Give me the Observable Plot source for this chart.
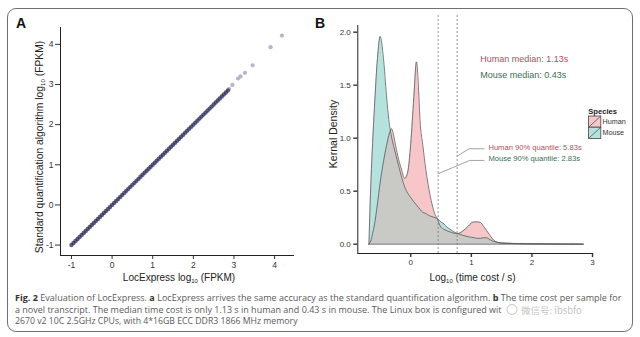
<!DOCTYPE html>
<html><head><meta charset="utf-8">
<script src="https://cdn.jsdelivr.net/npm/d3@7"></script>
<script src="https://cdn.jsdelivr.net/npm/@observablehq/plot@0.6"></script>
<style>
html,body{margin:0;padding:0;background:#fff;}
#wrap{position:relative;width:640px;height:337px;overflow:hidden;font-family:"Liberation Sans",Arial,sans-serif;color:#222;}
#border{position:absolute;left:7px;top:8px;width:626px;height:324px;border:1.4px solid #707070;border-radius:9px;box-sizing:border-box;}
.abs{position:absolute;white-space:nowrap;line-height:1;}
.abs sub{font-size:0.6em;vertical-align:-0.3em;line-height:0;}
svg.plot{position:absolute;top:0;}
svg.plot text{font-family:"Liberation Sans",Arial,sans-serif;}
#plotB [aria-label="y-axis tick"], #plotB [aria-label="x-axis tick"]{stroke-width:1.4;}
</style></head>
<body><div id="wrap"><div id="border"></div></div>
<script>
// ---------- DATA ----------
// Panel A: LocExpress vs standard quantification (log10 FPKM)
const locExpressDense = [-1,-0.95,-0.9,-0.85,-0.8,-0.75,-0.7,-0.65,-0.6,-0.55,-0.5,-0.45,-0.4,-0.35,-0.3,-0.25,-0.2,-0.15,-0.1,-0.05,0,0.05,0.1,0.15,0.2,0.25,0.3,0.35,0.4,0.45,0.5,0.55,0.6,0.65,0.7,0.75,0.8,0.85,0.9,0.95,1,1.05,1.1,1.15,1.2,1.25,1.3,1.35,1.4,1.45,1.5,1.55,1.6,1.65,1.7,1.75,1.8,1.85,1.9,1.95,2,2.05,2.1,2.15,2.2,2.25,2.3,2.35,2.4,2.45,2.5,2.55,2.6,2.65,2.7,2.75,2.8,2.85];
const standardDense   = [-1,-0.95,-0.9,-0.85,-0.8,-0.75,-0.7,-0.65,-0.6,-0.55,-0.5,-0.45,-0.4,-0.35,-0.3,-0.25,-0.2,-0.15,-0.1,-0.05,0,0.05,0.1,0.15,0.2,0.25,0.3,0.35,0.4,0.45,0.5,0.55,0.6,0.65,0.7,0.75,0.8,0.85,0.9,0.95,1,1.05,1.1,1.15,1.2,1.25,1.3,1.35,1.4,1.45,1.5,1.55,1.6,1.65,1.7,1.75,1.8,1.85,1.9,1.95,2,2.05,2.1,2.15,2.2,2.25,2.3,2.35,2.4,2.45,2.5,2.55,2.6,2.65,2.7,2.75,2.8,2.85];
const locExpressSparse = [2.88,2.96,3.1,3.16,3.27,3.46,3.9,4.18];
const standardSparse   = [2.89,2.99,3.15,3.2,3.29,3.48,3.93,4.22];
const ticksA = [-1,0,1,2,3,4];

// Panel B: kernel density of log10(time cost / s)
const species = ["Human","Mouse"];
const logTime = [-0.69,-0.68,-0.66,-0.63,-0.6,-0.55,-0.505,-0.45,-0.4,-0.35,-0.32,-0.28,-0.25,-0.2,-0.15,-0.1,-0.05,0,0.05,0.094,0.13,0.15,0.2,0.25,0.3,0.35,0.4,0.44,0.47,0.5,0.55,0.6,0.65,0.7,0.77,0.85,0.95,1.0,1.05,1.1,1.15,1.2,1.25,1.3,1.35,1.4,1.45,1.5,1.6,1.8,2.0,2.3,2.6,2.85];
const humanDensity = [0,0.01,0.03,0.1,0.18,0.38,0.58,0.78,0.93,1.05,1.09,1.02,0.93,0.8,0.7,0.62,0.68,0.95,1.38,1.72,1.45,1.2,0.93,0.7,0.52,0.38,0.28,0.24,0.19,0.16,0.14,0.125,0.115,0.105,0.1,0.12,0.17,0.2,0.21,0.21,0.205,0.17,0.13,0.09,0.05,0.025,0.015,0.01,0.008,0.005,0.003,0.002,0.001,0];
const mouseDensity = [0,0.2,0.55,0.95,1.28,1.75,1.96,1.75,1.4,1.12,1.02,0.92,0.85,0.74,0.63,0.54,0.48,0.44,0.4,0.37,0.345,0.33,0.3,0.29,0.27,0.26,0.25,0.24,0.225,0.21,0.19,0.16,0.14,0.12,0.1,0.085,0.07,0.065,0.06,0.055,0.055,0.06,0.06,0.045,0.03,0.02,0.015,0.011,0.008,0.005,0.003,0.002,0.001,0];
const medianSeconds = [1.13, 0.43];
const quantile90Seconds = [5.83, 2.83];
const ticksBx = [0,1,2,3];
const ticksBy = [0,0.5,1,1.5,2];

// ---------- LAYOUT ----------
const wrap = document.getElementById("wrap");
const font = '"Liberation Sans", Arial, sans-serif';
const colHuman = "#f6c6c8", colMouse = "#b6e2de", colBoth = "#c9cac6";
const txtHuman = "#ad4f60", txtMouse = "#3a6e56";

function addLabel(html, x, y, css = {}, mode = "middle") {
  const d = document.createElement("div");
  d.className = "abs";
  d.innerHTML = html;
  d.style.left = x + "px";
  d.style.top = y + "px";
  d.style.transform = mode === "rotate" ? "translate(-50%,-50%) rotate(-90deg)" : (mode === "start" ? "translate(0,-50%)" : "translate(-50%,-50%)");
  Object.assign(d.style, css);
  wrap.appendChild(d);
  return d;
}

// Panel A
const xDomA = [-1.27, 4.49], yDomA = [-1.26, 4.42];
const plotA = Plot.plot({
  width: 310, height: 290,
  marginLeft: 60, marginRight: 16, marginTop: 27, marginBottom: 35,
  style: {background: "transparent", fontFamily: font, fontSize: "8.5px", color: "#333", overflow: "visible"},
  x: {domain: xDomA, ticks: ticksA, tickSize: 4, tickPadding: 2, label: null, tickFormat: d => String(d)},
  y: {domain: yDomA, ticks: ticksA, tickSize: 5, tickPadding: 2, label: null, tickFormat: d => String(d)},
  marks: [
    Plot.dot(locExpressSparse.map((x, i) => ({x, y: standardSparse[i]})), {x: "x", y: "y", r: 2.1, fill: "#a9a8c6", fillOpacity: 0.85, stroke: "none"}),
    Plot.dot(locExpressDense.map((x, i) => ({x, y: standardDense[i]})), {x: "x", y: "y", r: 2.2, fill: "#2a2a55", fillOpacity: 0.75, stroke: "none"}),
    Plot.ruleX([xDomA[0]], {stroke: "#222", strokeWidth: 1}),
    Plot.ruleY([yDomA[0]], {stroke: "#222", strokeWidth: 1})
  ]
});
plotA.classList.add("plot");
plotA.style.left = "0px";
wrap.appendChild(plotA);

// Panel B
const xDomB = [-0.874, 3.016], yDomB = [-0.088, 2.063];
const rows = logTime.map((x, i) => ({x, human: humanDensity[i], mouse: mouseDensity[i], both: Math.min(humanDensity[i], mouseDensity[i])}));
const quantRows = species.map((s, i) => ({species: s, q: Math.log10(quantile90Seconds[i])}));
// annotation layout (data space of panel B)
const leaderHuman = [{x: Math.log10(quantile90Seconds[0]), y: 0.83}, {x: 0.96, y: 0.9}, {x: 1.21, y: 0.9}];
const leaderMouse = [{x: Math.log10(quantile90Seconds[1]), y: 0.665}, {x: 0.975, y: 0.79}, {x: 1.21, y: 0.79}];
const plotB = Plot.plot({
  width: 303, height: 290,
  marginLeft: 57.3, marginRight: 10, marginTop: 25, marginBottom: 37,
  style: {background: "transparent", fontFamily: font, fontSize: "8px", color: "#333", overflow: "visible"},
  x: {domain: xDomB, ticks: ticksBx, tickSize: 4, tickPadding: 2, label: null, tickFormat: d => String(d)},
  y: {domain: yDomB, ticks: ticksBy, tickSize: 4, tickPadding: 3, label: null, tickFormat: d3.format(".1f")},
  marks: [
    Plot.areaY(rows, {x: "x", y: "human", fill: colHuman, curve: "monotone-x"}),
    Plot.areaY(rows, {x: "x", y: "mouse", fill: colMouse, curve: "monotone-x"}),
    Plot.areaY(rows, {x: "x", y: "both", fill: colBoth, curve: "monotone-x"}),
    Plot.lineY(rows, {x: "x", y: "human", stroke: "#5b5b5b", strokeWidth: 0.8, curve: "monotone-x"}),
    Plot.lineY(rows, {x: "x", y: "mouse", stroke: "#5b5b5b", strokeWidth: 0.8, curve: "monotone-x"}),
    Plot.ruleY([{y: 0, x1: logTime[0], x2: logTime[logTime.length - 1]}], {y: "y", x1: "x1", x2: "x2", stroke: "#555", strokeWidth: 0.8}),
    Plot.ruleX(quantRows, {x: "q", y1: yDomB[0], y2: 2.16, stroke: "#777", strokeWidth: 0.8, strokeDasharray: "2,2"}),
    Plot.line(leaderHuman, {x: "x", y: "y", stroke: "#8a8a8a", strokeWidth: 0.8}),
    Plot.line(leaderMouse, {x: "x", y: "y", stroke: "#8a8a8a", strokeWidth: 0.8}),
    Plot.ruleX([xDomB[0]], {stroke: "#222", strokeWidth: 1}),
    Plot.ruleY([yDomB[0]], {stroke: "#222", strokeWidth: 1})
  ]
});
plotB.classList.add("plot");
plotB.id = "plotB";
plotB.style.left = "300px";
wrap.appendChild(plotB);
const sxB = v => 300 + plotB.scale("x").apply(v);
const syB = v => plotB.scale("y").apply(v);

// annotation texts (placed through panel B's scales)
addLabel(`Human median: ${medianSeconds[0]}s`, sxB(1.155), syB(1.74), {fontSize: "9px", color: txtHuman}, "start");
addLabel(`Mouse median: ${medianSeconds[1]}s`, sxB(1.155), syB(1.59), {fontSize: "9px", color: txtMouse}, "start");
addLabel(`Human 90% quantile: ${quantile90Seconds[0]}s`, sxB(1.29), syB(0.905), {fontSize: "7.6px", color: txtHuman}, "start");
addLabel(`Mouse 90% quantile: ${quantile90Seconds[1]}s`, sxB(1.29), syB(0.795), {fontSize: "7.6px", color: txtMouse}, "start");

// Panel letters & axis titles
addLabel("A", 21, 22.5, {fontSize: "14px", fontWeight: "bold", color: "#111"});
addLabel("B", 320, 22.5, {fontSize: "14px", fontWeight: "bold", color: "#111"});
addLabel("LocExpress log<sub>10</sub> (FPKM)", 179, 278, {fontSize: "10px", color: "#222"});
addLabel("Standard quantification algorithm log<sub>10</sub> (FPKM)", 40, 147, {fontSize: "10.3px", color: "#222"}, "rotate");
addLabel("Log<sub>10</sub> (time cost / s)", 472.5, 278, {fontSize: "10px", color: "#222"});
addLabel("Kernal Density", 333, 134, {fontSize: "10.5px", color: "#222"}, "rotate");

// Legend
const ns = "http://www.w3.org/2000/svg";
const over = document.createElementNS(ns, "svg");
over.setAttribute("width", 640); over.setAttribute("height", 337);
over.style.position = "absolute"; over.style.left = "0"; over.style.top = "0";
wrap.appendChild(over);
function el(tag, attrs, parent = over) {
  const e = document.createElementNS(ns, tag);
  for (const k in attrs) e.setAttribute(k, attrs[k]);
  parent.appendChild(e);
  return e;
}
const lt = el("text", {x: 588.3, y: 114, "font-family": font, "font-size": 7.6, "font-weight": "bold", fill: "#222"});
lt.textContent = "Species";
species.forEach((s, i) => {
  const y0 = 116 + i * 11.2;
  el("rect", {x: 588.5, y: y0, width: 12.3, height: 11.2, fill: i === 0 ? colHuman : colMouse, stroke: "#444", "stroke-width": 0.8});
  el("line", {x1: 589, y1: y0 + 10.8, x2: 600.3, y2: y0 + 0.5, stroke: "#555", "stroke-width": 0.8});
  const t = el("text", {x: 602.5, y: y0 + 8.2, "font-family": font, "font-size": 7.2, fill: "#333"});
  t.textContent = s;
});

// Caption
const capFont = '"Open Sans", "Noto Sans", sans-serif';
function capLine(parts, x, y, len) {
  const t = el("text", {x, y, "font-family": capFont, "font-size": 9, fill: "#5a5a5a", textLength: len, lengthAdjust: "spacingAndGlyphs"});
  parts.forEach(([s, b]) => {
    const ts = el("tspan", b ? {"font-weight": "bold", fill: "#333"} : {}, t);
    ts.textContent = s;
  });
}
capLine([["Fig. 2", 1], [" Evaluation of LocExpress. ", 0], ["a", 1], [" LocExpress arrives the same accuracy as the standard quantification algorithm. ", 0], ["b", 1], [" The time cost per sample for", 0]], 15, 300.5, 606.5);
capLine([["a novel transcript. The median time cost is only 1.13 s in human and 0.43 s in mouse. The Linux box is configured wit", 0]], 15, 312.5, 486.5);
capLine([["2670 v2 10C 2.5GHz CPUs, with 4*16GB ECC DDR3 1866 MHz memory", 0]], 15, 324.2, 282.5);
// watermark
el("circle", {cx: 512, cy: 309.5, r: 5, fill: "none", stroke: "#bbb", "stroke-width": 0.9});
const wm = el("text", {x: 521, y: 313.5, "font-family": '"Noto Sans CJK SC", sans-serif', "font-size": 9.5, fill: "#c4c4c4"});
wm.textContent = "微信号: ibsbfo";
</script></body></html>
